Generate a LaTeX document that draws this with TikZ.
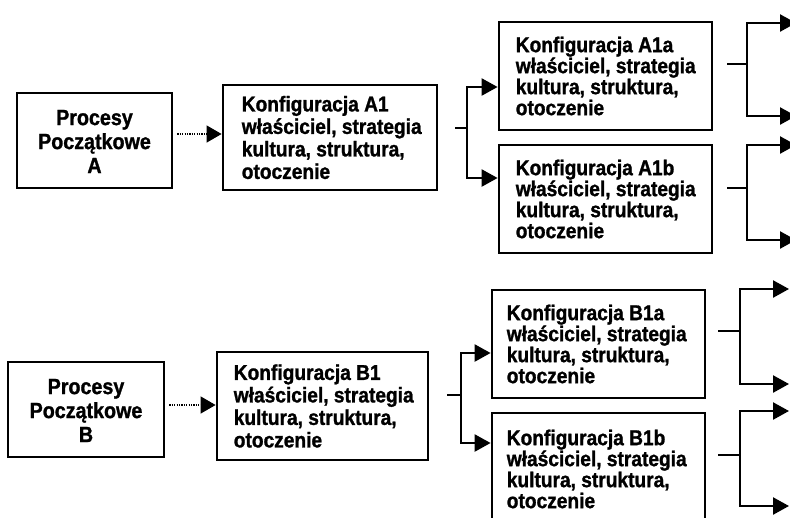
\documentclass[tikz,border=0pt]{standalone}
\usepackage{fontspec}
\setmainfont{Liberation Sans}
% tall, slightly narrowed heavy face for the box texts
\newfontfamily\boxfont{Liberation Sans}[FakeStretch=0.895,FakeBold=1.2]
\usetikzlibrary{arrows.meta}
\begin{document}
\begin{tikzpicture}[x=1pt,y=-1pt,
  box/.style={draw, line width=2.8pt, inner sep=0pt},
  cfgtext/.style={inner sep=0pt, anchor=west, align=left,
    font=\boxfont\bfseries\fontsize{21.4}{21}\selectfont},
  maintext/.style={cfgtext, font=\boxfont\bfseries\fontsize{21.4}{22.5}\selectfont},
  proctext/.style={inner sep=0pt, align=center,
    font=\boxfont\bfseries\fontsize{22}{24}\selectfont},
  conn/.style={line width=2.4pt},
  tri/.style={-{Triangle[length=16pt,width=17pt]}},
  dotline/.style={line width=1.3pt, dash pattern=on 1.2pt off 1.2pt,
    -{Triangle[length=15pt,width=17pt]}}
]
\fill[white] (0,0) rectangle (790,517);
\useasboundingbox (0,0) rectangle (790,517);
\clip (0,0) rectangle (790,517);

% ---------------- group A ----------------
\node[box, minimum width=155, minimum height=95] (A) at (94.5,140.5) {};
\node[proctext] (A-t) at ([yshift=-1pt]A.center) {Procesy\\Początkowe\\A};

\node[box, minimum width=214, minimum height=105] (A1) at (330,137.5) {};
\node[maintext] (A1-t) at ([xshift=20pt]A1.west) {Konfiguracja A1\\właściciel, strategia\\kultura, struktura,\\otoczenie};

\node[box, minimum width=213, minimum height=108] (A1a) at (605.5,76) {};
\node[cfgtext] (A1a-t) at ([xshift=18pt]A1a.west) {Konfiguracja A1a\\właściciel, strategia\\kultura, struktura,\\otoczenie};

\node[box, minimum width=213, minimum height=108] (A1b) at (605.5,199) {};
\node[cfgtext] (A1b-t) at ([xshift=18pt]A1b.west) {Konfiguracja A1b\\właściciel, strategia\\kultura, struktura,\\otoczenie};

\draw[dotline, shorten <=4pt] (A.east |- 0,134) -- (A1.west |- 0,134);

% branch A1 -> A1a / A1b
\coordinate (A1-s) at (455,128);
\coordinate (A1-j) at (467,128);
\draw[conn] (A1-s) -- (A1-j);
\draw[conn, tri] (A1-j) |- (A1a.west |- 0,87);
\draw[conn, tri] (A1-j) |- (A1b.west |- 0,178);

% outgoing branches of A1a
\coordinate (A1a-s) at (727,64);
\coordinate (A1a-j) at (747,64);
\coordinate (A1a-o1) at (796,23);
\coordinate (A1a-o2) at (796,116);
\draw[conn] (A1a-s) -- (A1a-j);
\draw[conn, tri] (A1a-j) |- (A1a-o1);
\draw[conn, tri] (A1a-j) |- (A1a-o2);

% outgoing branches of A1b
\coordinate (A1b-s) at (727,188);
\coordinate (A1b-j) at (747,188);
\coordinate (A1b-o1) at (796,145);
\coordinate (A1b-o2) at (796,240);
\draw[conn] (A1b-s) -- (A1b-j);
\draw[conn, tri] (A1b-j) |- (A1b-o1);
\draw[conn, tri] (A1b-j) |- (A1b-o2);

% ---------------- group B ----------------
\node[box, minimum width=156, minimum height=95] (B) at (86,409.5) {};
\node[proctext] (B-t) at ([yshift=-1pt]B.center) {Procesy\\Początkowe\\B};

\node[box, minimum width=211, minimum height=108] (B1) at (322.5,406) {};
\node[maintext] (B1-t) at ([xshift=18pt]B1.west) {Konfiguracja B1\\właściciel, strategia\\kultura, struktura,\\otoczenie};

\node[box, minimum width=213, minimum height=108] (B1a) at (598.5,344) {};
\node[cfgtext] (B1a-t) at ([xshift=16pt]B1a.west) {Konfiguracja B1a\\właściciel, strategia\\kultura, struktura,\\otoczenie};

\node[box, minimum width=213, minimum height=112] (B1b) at (598.5,469) {};
\node[cfgtext] (B1b-t) at ([xshift=16pt]B1b.west) {Konfiguracja B1b\\właściciel, strategia\\kultura, struktura,\\otoczenie};

\draw[dotline, shorten <=4pt] (B.east |- 0,405) -- (B1.west |- 0,405);

% branch B1 -> B1a / B1b
\coordinate (B1-s) at (447,395);
\coordinate (B1-j) at (461,395);
\draw[conn] (B1-s) -- (B1-j);
\draw[conn, tri] (B1-j) |- (B1a.west |- 0,353);
\draw[conn, tri] (B1-j) |- (B1b.west |- 0,443);

% outgoing branches of B1a
\coordinate (B1a-s) at (718,331);
\coordinate (B1a-j) at (740,331);
\coordinate (B1a-o1) at (789,289);
\coordinate (B1a-o2) at (789,384);
\draw[conn] (B1a-s) -- (B1a-j);
\draw[conn, tri] (B1a-j) |- (B1a-o1);
\draw[conn, tri] (B1a-j) |- (B1a-o2);

% outgoing branches of B1b
\coordinate (B1b-s) at (718,455);
\coordinate (B1b-j) at (740,455);
\coordinate (B1b-o1) at (789,411);
\coordinate (B1b-o2) at (789,506);
\draw[conn] (B1b-s) -- (B1b-j);
\draw[conn, tri] (B1b-j) |- (B1b-o1);
\draw[conn, tri] (B1b-j) |- (B1b-o2);
\end{tikzpicture}
\end{document}
